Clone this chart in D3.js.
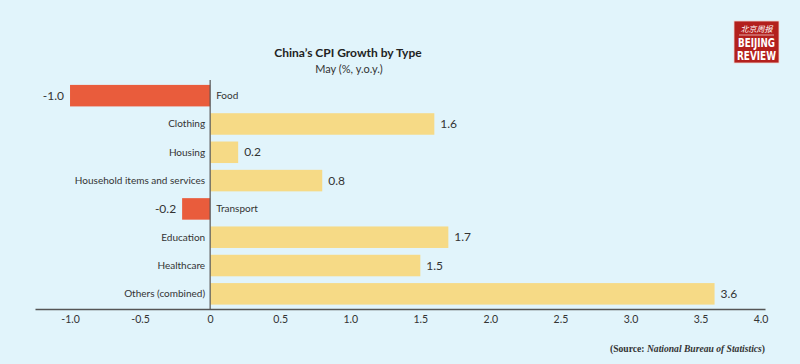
<!DOCTYPE html>
<html>
<head>
<meta charset="utf-8">
<script src="https://cdn.jsdelivr.net/npm/d3@7"></script>
<style>
  body { margin: 0; background: #e1f4fb; }
  svg { display: block; font-family: Lato, "Open Sans", sans-serif; }
</style>
</head>
<body>
<svg width="800" height="364"></svg>
<script>
var categories = ["Food", "Clothing", "Housing", "Household items and services",
                  "Transport", "Education", "Healthcare", "Others (combined)"];
var growth = [-1.0, 1.6, 0.2, 0.8, -0.2, 1.7, 1.5, 3.6];
var xTicks = [-1.0, -0.5, 0, 0.5, 1.0, 1.5, 2.0, 2.5, 3.0, 3.5, 4.0];

var data = categories.map(function(c, i) { return {name: c, value: growth[i]}; });
var fmt = function(v) { return v === 0 ? "0" : d3.format(".1f")(v).replace("\u2212", "-"); };

var svg = d3.select("svg");
svg.append("rect").attr("width", 800).attr("height", 364).attr("fill", "#e1f4fb");

// 0 sits at 210px, one unit = 140px
var x = d3.scaleLinear().domain([-1.25, 3.96]).range([35, 765]);
var y = d3.scaleBand().domain(categories).range([81.5, 308]).paddingInner(0.24).paddingOuter(0.12);

svg.append("text").attr("x", 348).attr("y", 57).attr("text-anchor", "middle")
  .attr("font-size", 12).attr("font-weight", "bold").attr("fill", "#222")
  .text("China\u2019s CPI Growth by Type");
svg.append("text").attr("x", 349).attr("y", 72.5).attr("text-anchor", "middle")
  .attr("font-size", 11).attr("fill", "#333")
  .text("May (%, y.o.y.)");

var bars = svg.append("g");
bars.selectAll("rect").data(data).enter().append("rect")
  .attr("x", function(d) { return x(Math.min(0, d.value)); })
  .attr("y", function(d) { return y(d.name); })
  .attr("width", function(d) { return Math.abs(x(d.value) - x(0)); })
  .attr("height", y.bandwidth())
  .attr("fill", function(d) { return d.value < 0 ? "#e95c3c" : "#f6da86"; });

// category labels
bars.selectAll("text.cat").data(data).enter().append("text")
  .attr("class", "cat")
  .attr("x", function(d) { return d.value < 0 ? x(0) + 6 : x(0) - 5; })
  .attr("y", function(d) { return y(d.name) + y.bandwidth() / 2; })
  .attr("dy", "0.35em")
  .attr("text-anchor", function(d) { return d.value < 0 ? "start" : "end"; })
  .attr("font-size", 10).attr("fill", "#333")
  .text(function(d) { return d.name; });

// value labels
bars.selectAll("text.val").data(data).enter().append("text")
  .attr("class", "val")
  .attr("x", function(d) { return d.value < 0 ? x(d.value) - 6 : x(d.value) + 6; })
  .attr("y", function(d) { return y(d.name) + y.bandwidth() / 2; })
  .attr("dy", "0.35em")
  .attr("text-anchor", function(d) { return d.value < 0 ? "end" : "start"; })
  .attr("font-size", 12).attr("fill", "#333")
  .text(function(d) { return fmt(d.value); });

// zero line
svg.append("line").attr("x1", x(0)).attr("x2", x(0)).attr("y1", 80).attr("y2", 309)
  .attr("stroke", "#555").attr("stroke-width", 1.2);

var xAxis = svg.append("g").attr("transform", "translate(0,309)")
  .call(d3.axisBottom(x).tickValues(xTicks).tickSize(0).tickPadding(7).tickFormat(fmt));
xAxis.select(".domain").attr("stroke", "#555").attr("stroke-width", 1.5);
xAxis.selectAll("text").attr("font-size", 10.5).attr("fill", "#333")
  .attr("font-family", "Lato, sans-serif");
xAxis.selectAll(".tick").filter(function(d) { return d === 4; }).select("text").attr("dx", -10);

// source
var src = svg.append("text").attr("x", 765).attr("y", 352).attr("text-anchor", "end")
  .attr("font-family", "'Liberation Serif', serif").attr("font-size", 9.6)
  .attr("font-weight", "bold").attr("fill", "#333");
src.append("tspan").text("(Source: ");
src.append("tspan").attr("font-style", "italic").text("National Bureau of Statistics");
src.append("tspan").text(")");

// logo
var logo = svg.append("g").attr("transform", "translate(734,21)");
logo.append("rect").attr("width", 45).attr("height", 42).attr("fill", "#b3201d")
  .attr("stroke", "#f2d6d2").attr("stroke-width", 0.8);
logo.append("text").attr("x", 22.5).attr("y", 11).attr("text-anchor", "middle")
  .attr("font-family", "'Noto Sans CJK SC', sans-serif").attr("font-size", 8).attr("fill", "#fff")
  .attr("font-style", "italic").text("北京周报");
logo.append("line").attr("x1", 5).attr("x2", 40).attr("y1", 14).attr("y2", 14).attr("stroke", "#fff").attr("stroke-width", 0.6);
logo.append("text").attr("x", 22.5).attr("y", 26).attr("text-anchor", "middle")
  .attr("font-family", "'Liberation Sans Narrow', 'DejaVu Sans Condensed', sans-serif")
  .attr("font-size", 12).attr("font-weight", "bold").attr("fill", "#fff")
  .attr("textLength", 37).attr("lengthAdjust", "spacingAndGlyphs").text("BEIJING");
logo.append("text").attr("x", 22.5).attr("y", 39).attr("text-anchor", "middle")
  .attr("font-family", "'Liberation Sans Narrow', 'DejaVu Sans Condensed', sans-serif")
  .attr("font-size", 12).attr("font-weight", "bold").attr("fill", "#fff")
  .attr("textLength", 39).attr("lengthAdjust", "spacingAndGlyphs").text("REVIEW");
</script>
</body>
</html>
